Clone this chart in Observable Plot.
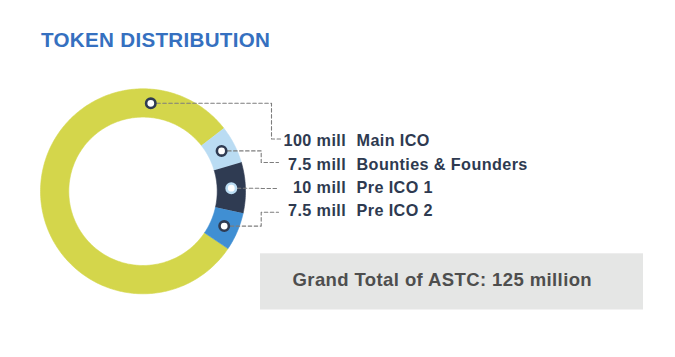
<!DOCTYPE html>
<html>
<head>
<meta charset="utf-8">
<script src="https://cdn.jsdelivr.net/npm/d3@7"></script>
<script src="https://cdn.jsdelivr.net/npm/@observablehq/plot@0.6"></script>
<style>
  html, body { margin: 0; padding: 0; background: #ffffff; }
  #wrap { position: relative; width: 675px; height: 357px; overflow: hidden; font-family: "Liberation Sans", Arial, sans-serif; }
  #head { position: relative; width: 675px; height: 64px; }
  #title { position: absolute; left: 41px; top: 30px; margin: 0; font-size: 20.6px; line-height: 1; font-weight: bold; color: #3570c0; white-space: nowrap; letter-spacing: 0.3px; }
  #chart svg { display: block; }
  #chart svg g.lab text { letter-spacing: 0.4px; }
</style>
</head>
<body>
<div id="wrap">
  <div id="head"><div id="title"></div></div>
  <div id="chart"></div>
</div>
<script>
// ---- data ----
const titleText = "TOKEN DISTRIBUTION";
const names = ["Main ICO", "Bounties & Founders", "Pre ICO 1", "Pre ICO 2"];
const values = [100, 7.5, 10, 7.5];
const unitLabel = "mill";
const colors = ["#d4d64b", "#badcf3", "#2f3b52", "#408fd3"];
const totalPrefix = "Grand Total of ASTC:";
const totalUnit = "million";

// ---- layout (pixels) ----
const L = {
  top: 64, width: 675, height: 357,
  cx: 142.5, cy: 190.8, rOuter: 102.5, rInner: 74.2, startDeg: 124,
  dotAt: [0.837, 0.5, 0.5, 0.5],
  dotStroke: ["#2f3b52", "#2f3b52", "#badcf3", "#2f3b52"],
  elbowX: [271, 260.7, 260.7, 260.7],
  endX: [280, 278, 278, 278],
  endY: [138.5, 162, 188, 211.7],
  valueX: 345.6, nameX: 356, row0: 145.8, rowStep: 23.2,
  box: {x1: 260, x2: 643, y1: 253.3, y2: 309.5},
  totalX: 292, totalY: 285.8
};

document.getElementById("title").textContent = titleText;

const data = names.map((n, i) => ({name: n, value: values[i], color: colors[i], i}));
const total = d3.sum(values);
const rad = Math.PI / 180;
const pie = d3.pie().sort(null).value(d => d.value)
  .startAngle(L.startDeg * rad).endAngle((L.startDeg + 360) * rad);
const arcs = pie(data);
const px = (r, a) => L.cx + r * Math.sin(a);
const py = (r, a) => L.cy - r * Math.cos(a);

// ring polygons built from the pie angles
const ring = arcs.flatMap(a => {
  const n = Math.max(12, Math.ceil((a.endAngle - a.startAngle) / rad));
  const pts = [];
  for (let k = 0; k <= n; k++) {
    const t = a.startAngle + (a.endAngle - a.startAngle) * k / n;
    pts.push({seg: a.data.i, color: a.data.color, x: px(L.rOuter, t), y: py(L.rOuter, t)});
  }
  for (let k = n; k >= 0; k--) {
    const t = a.startAngle + (a.endAngle - a.startAngle) * k / n;
    pts.push({seg: a.data.i, color: a.data.color, x: px(L.rInner, t), y: py(L.rInner, t)});
  }
  return pts;
});

const rMid = (L.rOuter + L.rInner) / 2;
const dots = arcs.map(a => {
  const i = a.data.i;
  const t = a.startAngle + (a.endAngle - a.startAngle) * L.dotAt[i];
  return {i, x: px(rMid, t), y: py(rMid, t), stroke: L.dotStroke[i]};
});

const leaders = dots.flatMap(d => [
  {seg: d.i, x: d.x, y: d.y},
  {seg: d.i, x: L.elbowX[d.i], y: d.y},
  {seg: d.i, x: L.elbowX[d.i], y: L.endY[d.i]},
  {seg: d.i, x: L.endX[d.i], y: L.endY[d.i]}
]);

const font = {fontWeight: "bold", fontFamily: "Liberation Sans, Arial, sans-serif", className: "lab"};

const chart = Plot.plot({
  width: L.width,
  height: L.height - L.top,
  margin: 0,
  x: {domain: [0, L.width], range: [0, L.width], axis: null},
  y: {domain: [L.top, L.height], range: [0, L.height - L.top], axis: null},
  color: {type: "identity"},
  style: {fontFamily: "Liberation Sans, Arial, sans-serif", background: "white", overflow: "visible"},
  marks: [
    Plot.rect([L.box], {x1: "x1", x2: "x2", y1: "y1", y2: "y2", fill: "#e5e6e5"}),
    Plot.text([total], {
      x: () => L.totalX, y: () => L.totalY,
      text: d => `${totalPrefix} ${d} ${totalUnit}`,
      textAnchor: "start", lineAnchor: "bottom", fontSize: 18.5, fill: "#4e4e4e", ...font
    }),
    Plot.line(ring, {x: "x", y: "y", z: "seg", fill: "color", stroke: "color", strokeWidth: 0.6, curve: "linear"}),
    Plot.line(leaders, {x: "x", y: "y", z: "seg", stroke: "#7d7d7d", strokeWidth: 1.1, strokeDasharray: "3.5,2.5", curve: "linear"}),
    Plot.dot(dots, {x: "x", y: "y", r: 4.7, fill: "white", stroke: "stroke", strokeWidth: 2.6}),
    Plot.text(data, {
      x: () => L.valueX, y: d => L.row0 + d.i * L.rowStep,
      text: d => `${d.value} ${unitLabel}`,
      textAnchor: "end", lineAnchor: "bottom", fontSize: 16.2, fill: "#2e3a50", ...font
    }),
    Plot.text(data, {
      x: () => L.nameX, y: d => L.row0 + d.i * L.rowStep,
      text: "name",
      textAnchor: "start", lineAnchor: "bottom", fontSize: 16.2, fill: "#2e3a50", ...font
    })
  ]
});
document.getElementById("chart").appendChild(chart);
</script>
</body>
</html>
